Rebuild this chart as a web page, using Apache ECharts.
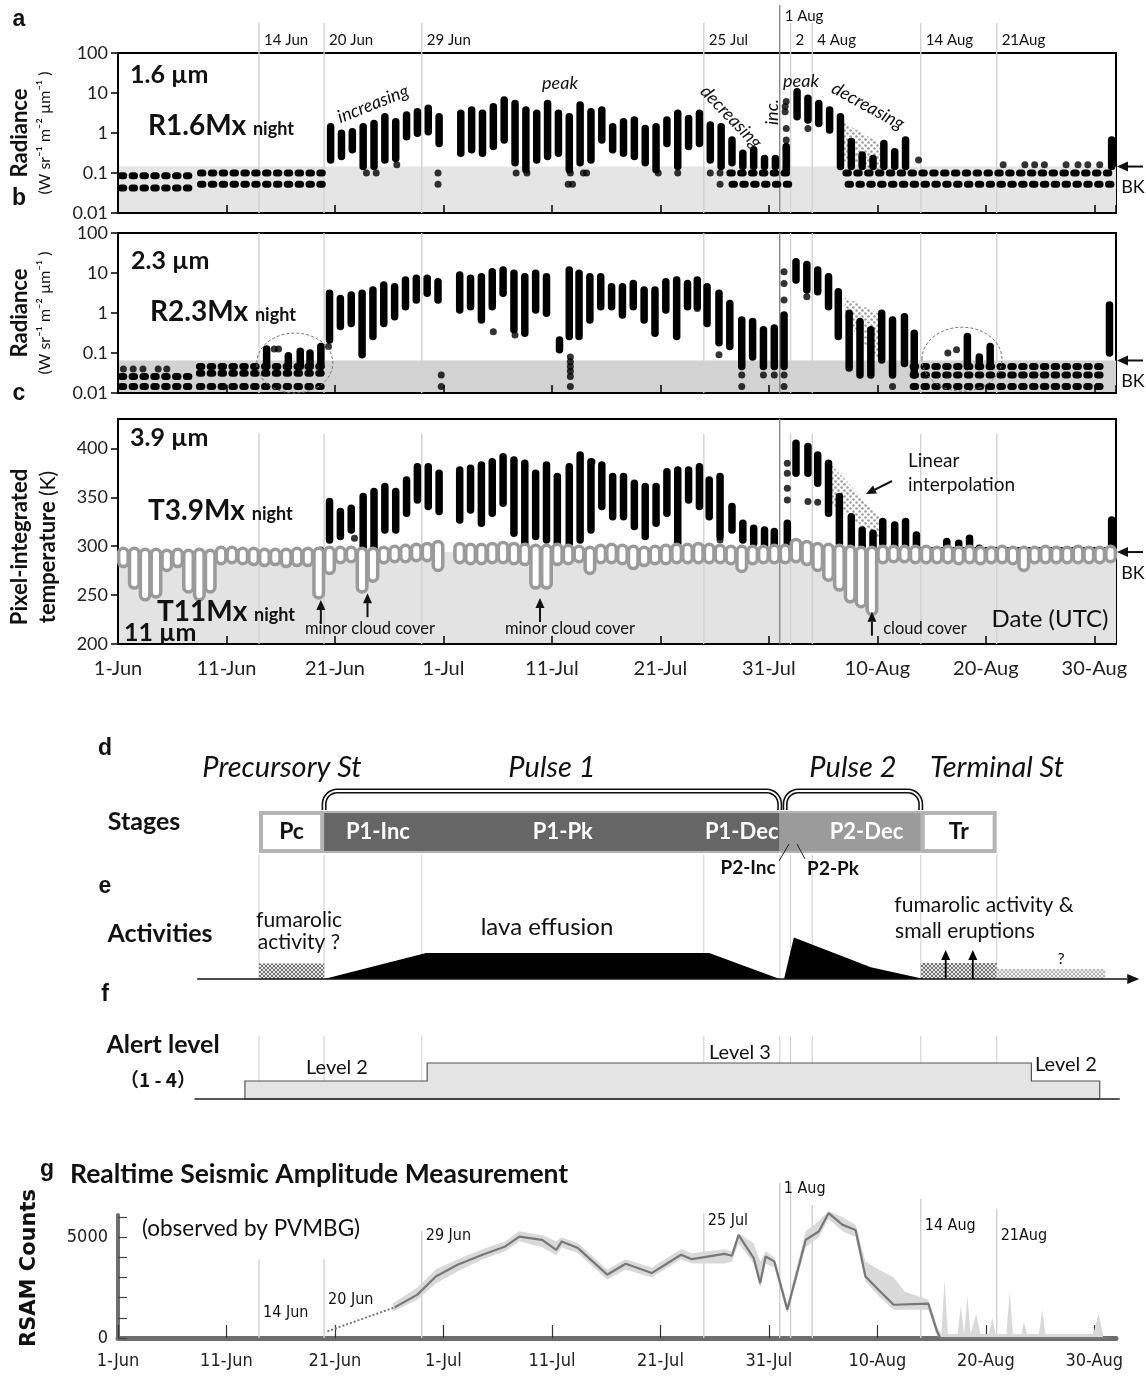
<!DOCTYPE html>
<html><head><meta charset="utf-8"><title>Eruption stages</title>
<script src="https://cdn.jsdelivr.net/npm/echarts@6/dist/echarts.min.js"></script>
<style>html,body{margin:0;padding:0;background:#fff;}#chart{width:1146px;height:1376px;}</style>
</head><body><div id="chart"></div>
<script>
// ================= DATA =================
// x: days since 1 June (0 = 1-Jun)
const xTickLabels = ['1-Jun','11-Jun','21-Jun','1-Jul','11-Jul','21-Jul','31-Jul','10-Aug','20-Aug','30-Aug'];
const logTickLabels = ['0.01','0.1','1','10','100'];
const tempTickLabels = ['200','250','300','350','400'];
const rsamTickValues = [0, 5000];
const rsamTickLabels = ['0', '5000'];
const eventDays = [13, 19, 28, 54, 61, 62, 64, 74, 81];
const eventLabels = ['14 Jun','20 Jun','29 Jun','25 Jul','1 Aug','2','4 Aug','14 Aug','21Aug'];

// ---- panel a : R1.6Mx night  [day, low, high] per night
const aCols = [[19.6,0.21,1.44],[20.6,0.26,0.98],[21.6,0.38,1.08],[22.6,0.145,1.44],[23.6,0.145,1.74],[24.6,0.21,2.56],[25.6,0.23,1.92],[26.6,0.81,2.82],[27.6,0.98,3.41],[28.6,1.08,4.14],[29.6,0.55,2.56],
[31.6,0.31,3.1],[32.6,0.38,3.76],[33.6,0.31,3.1],[34.6,0.46,4.55],[35.6,0.67,6.7],[36.6,0.18,5.5],[37.6,0.12,3.76],[38.6,0.21,3.1],[39.6,0.26,5.5],[40.6,0.31,3.1],[41.6,0.12,2.56],[42.6,0.18,5.0],[43.6,0.21,3.41],[44.6,0.67,3.76],[45.6,0.38,1.44],[46.6,0.31,1.92],[47.6,0.26,2.11],[48.6,0.18,1.3],[49.6,0.12,1.44],[50.6,0.55,2.11],[51.6,0.145,3.1],[52.6,0.46,2.32],[53.6,0.55,3.1],[54.6,0.21,1.58],[55.6,0.145,1.44],
[56.6,0.18,0.67],[57.6,0.145,0.31],[58.6,0.145,0.38],[59.6,0.145,0.23],[60.6,0.145,0.23],[61.6,0.12,0.46],[62.6,2.56,10.8],[63.6,2.11,7.4],[64.6,1.74,5.5],[65.6,1.19,3.76],[66.6,0.145,2.56],[67.6,0.145,0.61],[68.6,0.145,0.28],[69.6,0.145,0.23],[70.6,0.145,0.55],[71.6,0.145,0.34],[72.6,0.145,0.67],[91.6,0.145,0.67]];
const aDots = [[22.9,0.1],[23.8,0.1],[25.7,0.16],[29.5,0.1],[29.5,0.052],[36.7,0.1],[37.7,0.1],[41.7,0.1],[41.5,0.052],[41.9,0.052],[42.9,0.1],[43.2,0.1],[49.8,0.1],[51.6,0.1],[54.6,0.1],[55.5,0.1],[55.5,0.052],[61.6,0.67],[61.6,1.3],[61.5,3.4],[61.5,4.6],[61.6,6.1],[63.6,1.3],[73.8,0.21],[81.6,0.16],[83.6,0.16],[84.5,0.16],[85.4,0.16],[87.4,0.16],[88.5,0.16],[89.4,0.16],[90.5,0.16]];
const aRows = [[0.3,7.2,0.085],[0.3,7.2,0.042],[7.6,19.6,0.1],[7.6,19.3,0.052],[56.4,61.9,0.1],[56.6,61.9,0.052],[67.1,91.9,0.1],[67.3,91.9,0.052]];
const aBK = 0.145;
const aInterpDay = [66.8, 70.5], aInterpTop = [1.9, 0.5], aInterpBot = [0.2, 0.09];

// ---- panel b : R2.3Mx night
const bCols = [[13.7,0.046,0.125],[15.7,0.046,0.085],[16.8,0.046,0.11],[17.7,0.046,0.1],[18.7,0.046,0.145],
[19.5,0.21,3.1],[20.5,0.46,2.32],[21.5,0.55,2.82],[22.5,0.09,3.1],[23.5,0.26,3.76],[24.5,0.55,5.0],[25.5,0.81,4.55],[26.5,1.44,6.7],[27.5,2.11,7.4],[28.5,3.1,7.4],[29.5,2.11,6.07],
[31.5,1.19,8.9],[32.5,1.44,7.4],[33.5,0.67,8.1],[34.5,1.44,10.8],[35.5,3.1,11.9],[36.5,0.38,9.8],[37.5,0.31,8.1],[38.5,1.19,9.8],[39.5,0.98,8.1],[40.7,0.12,0.21],[41.6,0.26,11.9],[42.5,0.26,9.8],[43.5,0.67,8.1],[44.5,1.44,8.1],[45.5,1.44,4.55],[46.5,0.89,4.55],[47.5,1.44,5.5],[48.5,0.67,3.76],[49.5,0.31,3.76],[50.5,1.19,6.07],[51.5,0.26,6.7],[52.5,1.44,5.5],[53.4,1.44,6.7],[54.3,0.55,4.55],[55.4,0.18,3.1],[56.4,0.145,1.74],[57.5,0.046,0.67],[58.5,0.08,0.61],[59.5,0.046,0.38],[60.5,0.046,0.42],[61.4,0.046,0.89],[62.5,6.7,19.2],[63.5,3.76,16.2],[64.5,3.41,11.9],[65.5,1.44,8.1],[66.4,0.26,3.41],[67.4,0.042,0.98],[68.4,0.028,0.61],[69.4,0.028,0.38],[70.4,0.067,0.98],[71.4,0.028,0.67],[72.5,0.055,0.81],[73.4,0.028,0.31],
[78.3,0.046,0.26],[79.4,0.046,0.08],[80.4,0.046,0.145],[91.4,0.1,1.58]];
const bDots = [[0.5,0.04],[1.4,0.04],[2.3,0.04],[3.7,0.04],[4.5,0.04],[14.4,0.125],[14.8,0.125],[19.4,0.145],[29.8,0.028],[29.8,0.0145],[34.6,0.34],[36.6,0.28],[41.7,0.08],[41.7,0.06],[41.7,0.046],[41.7,0.035],[41.7,0.026],[41.7,0.0145],[53.4,1.3],[55.4,0.09],[57.5,0.028],[57.5,0.0145],[59.5,0.028],[60.5,0.028],[61.4,10.8],[61.4,5.5],[61.4,2.11],[61.4,0.028],[61.4,0.0145],[63.5,2.56],[71.4,0.0145],[73.4,0.0145],[76.5,0.1],[77.3,0.12]];
const bRows = [[0.3,7.1,0.026],[0.3,7.1,0.0145],[7.5,19.3,0.046],[7.5,19.3,0.031],[7.5,19.3,0.0145],[73.3,90.9,0.046],[73.3,90.9,0.028],[73.3,90.9,0.0145]];
const bBK = 0.065;
const bInterpDay = [67.0, 70.3], bInterpTop = [2.56, 0.89], bInterpBot = [0.67, 0.055];
const bCircleDay = [16.3, 77.8], bCircleVal = [0.056, 0.07];

// ---- panel c : T3.9Mx night (black) and T11Mx night (grey)
const cCols = [[19.5,306.4,345.6],[20.5,309.8,335.4],[21.5,316.6,338.8],[22.6,296.2,350.7],[23.6,296.2,355.8],[24.6,316.6,360.9],[25.6,316.6,355.8],[26.6,333.6,367.7],[27.6,347.3,381.3],[28.6,340.5,381.3],[29.6,335.4,374.5],
[31.5,326.8,377.9],[32.5,337.1,379.6],[33.5,323.4,383.0],[34.5,333.6,386.4],[35.5,343.9,391.5],[36.5,313.2,388.1],[37.5,299.6,384.7],[38.5,309.8,374.5],[39.5,306.4,383.0],[40.5,299.6,371.1],[41.6,303.0,381.3],[42.6,306.4,393.2],[43.6,316.6,386.4],[44.6,340.5,383.0],[45.6,330.2,371.1],[46.6,330.2,371.1],[47.6,320.0,364.3],[48.6,309.8,360.9],[49.6,323.4,360.9],[50.6,333.6,376.2],[51.6,303.0,377.9],[52.6,347.3,377.9],[53.6,340.5,381.3],[54.5,330.2,367.7],[55.5,309.8,371.1],[56.6,316.6,340.5],[57.6,306.4,323.4],[58.6,303.0,318.3],[59.6,299.6,316.6],[60.5,299.6,314.9],[61.7,296.2,323.4],[62.5,374.5,405.2],[63.6,374.5,401.8],[64.5,364.3,393.2],[65.5,333.6,384.7],[66.5,303.0,350.7],[67.6,296.2,330.2],[68.6,292.8,316.6],[69.6,292.8,313.2],[70.5,303.0,325.1],[71.6,299.6,321.7],[72.6,299.6,325.1],[73.6,299.6,311.5],
[76.4,294.5,304.7],[77.5,294.5,303.0],[78.5,294.5,308.1],[79.4,294.5,298.0],[91.6,296.2,326.8]];
const cDots = [[61.7,384.7],[61.7,374.5],[61.7,359.2],[61.7,347.3],[63.6,345.6],[55.5,306.4],[18.7,296],[43.7,386.4],[21.8,308],[64.5,345]];
const cQuietRows = [[0.3,18.8,289],[74.0,91.3,296.5]];
const t11 = [[0.5,284,293],[1.5,262,293],[2.5,250,292],[3.5,253,292],[4.5,280,291],[5.5,284,292],[6.5,258,291],[7.5,250,292],[8.5,258,291],[9.5,287,294],[10.5,288,294],[11.5,287,293],[12.5,286,293],[13.5,285,292],[14.5,286,292],[15.5,284,292],[16.5,285,293],[17.5,285,293],[18.5,252,293],[19.5,277,294],[20.5,288,294],[21.5,289,294],[22.5,258,293],[23.5,269,293],[24.5,288,294],[25.5,289,295],[26.5,289,296],[27.5,290,297],[28.5,290,298],[29.5,280,300],
[31.5,288,298],[32.5,287,297],[33.5,287,297],[34.5,288,298],[35.5,288,299],[36.5,287,298],[37.5,286,297],[38.5,262,296],[39.5,262,296],[40.5,286,297],[41.5,287,296],[42.5,289,295],[43.5,277,294],[44.5,288,296],[45.5,288,297],[46.5,287,296],[47.5,282,295],[48.5,285,294],[49.5,287,295],[50.5,287,296],[51.5,288,297],[52.5,288,297],[53.5,288,298],[54.5,288,297],[55.5,288,296],[56.5,287,295],[57.5,279,295],[58.5,287,295],[59.5,288,295],[60.5,288,296],[61.5,288,296],[62.5,289,302],[63.5,286,300],[64.5,280,298],[65.5,270,297],[66.5,260,296],[67.5,248,295],[68.5,243,294],[69.5,235,294],[70.5,288,295],[71.5,289,295],[72.5,289,295],[73.5,288,295],[74.5,288,295],[75.5,288,294],[76.5,288,295],[77.5,287,294],[78.5,288,295],[79.5,287,294],[80.5,288,294],[81.5,288,295],[82.5,287,294],[83.5,280,294],[84.5,288,294],[85.5,288,295],[86.5,288,294],[87.5,288,294],[88.5,288,295],[89.5,288,294],[90.5,288,294],[91.5,289,295]];
const cBK = 294;
const cInterpDay = [65.6, 70.5], cInterpTop = [385, 327], cInterpBot = [345, 305];
const cloudArrowDays = [18.7, 23.0, 38.9, 69.5];
const cloudArrowTips = [245, 252, 247, 233];

// ---- panel d : stages
const stageNames = ['Pc', '', '', 'Tr'];
const stageStart = [13, 19, 61, 74];
const stageEnd = [19, 61, 74, 81];
const subNames = ['P1-Inc','P1-Pk','P1-Dec','P2-Inc','P2-Pk','P2-Dec'];
const subStart = [19, 28, 54, 61, 62, 64];
const subEnd = [28, 54, 61, 62, 64, 74];
const pulseNames = ['Pulse 1', 'Pulse 2'];
const pulseStart = [19, 61.5];
const pulseEnd = [61, 74];

// ---- panel e : activities (relative level)
const actP1 = [[19,0],[28.4,1],[54.5,1],[61,0]];
const actP2 = [[61.4,0],[62.3,1.6],[69.4,0.45],[74.3,0]];
const hatchStart = [13, 74, 81];
const hatchEnd = [19, 81, 91];
const hatchLevel = [0.6, 0.62, 0.38];
const eruptionDays = [76.3, 78.8];

// ---- panel f : alert level
const alertStart = [11.7, 28.5, 84.2];
const alertEnd = [28.5, 84.2, 90.5];
const alertLevel = [2, 3, 2];

// ---- panel g : RSAM
const rsamLine = [[25.5,1520],[27.6,2150],[29.3,3050],[31.3,3630],[33.6,4130],[35.7,4540],[37.0,5030],[39.1,4870],[40.4,4370],[40.9,4790],[42.4,4460],[45.1,3140],[46.8,3680],[49.2,3220],[51.9,4130],[52.9,3910],[55.9,4170],[56.6,4080],[57.2,5110],[58.6,3960],[59.2,2720],[59.7,4040],[60.5,3800],[61.7,1400],[63.4,4870],[64.6,5280],[65.5,6190],[66.8,5610],[68.0,5360],[68.9,3050],[70.1,2390],[71.5,1650],[74.7,1700],[75.5,330],[75.8,0],[91.5,0]];
const rsamDotted = [[19.3,330],[25.5,1520]];
const rsamBand = [[25.3,1300,1700],[27.6,1900,2500],[29.3,2700,3400],[31.3,3300,3900],[33.6,3900,4400],[35.7,4300,4800],[37.0,4800,5300],[39.1,4500,5100],[40.4,4100,4800],[40.9,4500,5000],[42.4,4200,4700],[45.1,2900,3400],[46.8,3400,3900],[49.2,3000,3500],[51.9,3900,4400],[52.9,3700,4200],[55.9,3700,4400],[56.6,3800,4300],[57.2,4700,5200],[58.6,3700,4700],[59.2,2500,3800],[59.7,3700,4300],[60.5,3500,4000],[61.7,1200,1700],[63.4,4500,5300],[64.6,5000,5800],[65.5,5900,6300],[66.8,5300,6000],[68.0,5000,5600],[68.9,2800,3800],[70.1,2100,3400],[71.5,1400,3000],[72.5,1400,2300],[74.7,1400,1900],[75.5,100,600],[75.9,0,200],[76.2,0,2900],[76.5,0,200],[77.4,0,200],[77.7,0,1600],[78.0,0,200],[78.3,0,2100],[78.6,0,200],[79.1,0,1200],[79.5,0,200],[80.3,0,200],[80.6,0,1000],[80.9,0,200],[81.9,0,200],[82.2,0,2300],[82.5,0,200],[83.3,0,200],[83.5,0,800],[83.8,0,200],[84.9,0,200],[85.2,0,1400],[85.5,0,200],[89.9,0,200],[90.4,0,1200],[90.8,0,200]];
const gLineTops = [3900, 3900, 5300, 6200, 7700, 7700, 6600, 6900, 6400];
const gLabelY = [1313, 1300, 1236, 1221, 1189, null, null, 1226, 1236];

// ================= STYLE / HELPERS =================
const F = 'Lato, "Open Sans", sans-serif';
const FC = '"Liberation Sans Narrow", "DejaVu Sans Condensed", Lato, sans-serif';
function pattern(kind){
  const c = document.createElement('canvas');
  if (kind === 'dots') {
    c.width = c.height = 6; const g = c.getContext('2d');
    g.fillStyle = '#9c9c9c'; g.beginPath(); g.arc(1.5,1.5,1.3,0,7); g.fill(); g.beginPath(); g.arc(4.5,4.5,1.3,0,7); g.fill();
  } else {
    c.width = c.height = 4; const g = c.getContext('2d');
    g.fillStyle = kind === 'dense' ? '#e6e6e6' : '#f2f2f2'; g.fillRect(0,0,4,4);
    g.strokeStyle = kind === 'dense' ? '#555' : '#a0a0a0'; g.lineWidth = 0.8;
    g.beginPath(); g.moveTo(0,0); g.lineTo(4,4); g.moveTo(4,0); g.lineTo(0,4); g.stroke();
  }
  return {image: c, repeat: 'repeat'};
}
const dotFill = pattern('dots');

const series = [];
function shade(gi, x0, x1, y0, y1, color){
  series.push({type:'custom', xAxisIndex:gi, yAxisIndex:gi, z:0, silent:true, clip:false, data:[[x0,y0,x1,y1]],
    renderItem:(p,api)=>{ const a=api.coord([api.value(0),api.value(3)]), b=api.coord([api.value(2),api.value(1)]);
      return {type:'rect', shape:{x:a[0],y:a[1],width:b[0]-a[0],height:b[1]-a[1]}, style:{fill:color}}; }});
}
function evLines(gi, yBot, topFn, colorFn, extFn){
  series.push({type:'custom', xAxisIndex:gi, yAxisIndex:gi, z:1, silent:true, clip:false,
    data: eventDays.map((d,i)=>[d, yBot, i]),
    renderItem:(p,api)=>{ const d=api.value(0), i=api.value(2); const b=api.coord([d,yBot]); const t=api.coord([d,topFn(i)]);
      const ext = extFn ? extFn(i) : 0;
      return {type:'line', shape:{x1:b[0],y1:b[1],x2:t[0],y2:t[1]-ext}, style:{stroke:colorFn(i), lineWidth:1.4}}; }});
}
function cols(gi, data, w, style, z){
  series.push({type:'custom', xAxisIndex:gi, yAxisIndex:gi, z, silent:true, clip:false, data,
    renderItem:(p,api)=>{ const d=api.value(0), lo=api.value(1), hi=api.value(2);
      const t=api.coord([d,hi]), b=api.coord([d,lo]); const r=w/2;
      return {type:'rect', shape:{x:t[0]-r, y:t[1]-r, width:w, height:b[1]-t[1]+w, r:r}, style}; }});
}
function rows(gi, data, lw, dash, color, z){
  series.push({type:'custom', xAxisIndex:gi, yAxisIndex:gi, z, silent:true, clip:false, data, encode:{x:0, y:2},
    renderItem:(p,api)=>{ const s=api.coord([api.value(0),api.value(2)]), e=api.coord([api.value(1),api.value(2)]);
      return {type:'line', shape:{x1:s[0],y1:s[1],x2:e[0],y2:e[1]}, style:{stroke:color, lineWidth:lw, lineDash:dash, lineCap:'round'}}; }});
}
function dots(gi, data, z){
  series.push({type:'scatter', xAxisIndex:gi, yAxisIndex:gi, z, silent:true, data, symbolSize:7, itemStyle:{color:'#000'}});
}
function poly(gi, pts, style, z){
  series.push({type:'custom', xAxisIndex:gi, yAxisIndex:gi, z, silent:true, clip:false, data:[pts[0]],
    renderItem:(p,api)=>({type:'polygon', shape:{points:pts.map(q=>api.coord(q))}, style})});
}
function interpPts(days, top, bot){
  return days.map((d,i)=>[d, top[i]]).concat(days.map((d,i)=>[d, bot[i]]).reverse());
}

const evColor = i => eventDays[i] === 61 ? '#8a8a8a' : '#d2d2d2';

// ---- panel a
shade(0, 0, 92, 0.01, aBK, '#e5e5e5');
evLines(0, 0.01, ()=>100, evColor, i => eventDays[i] === 61 ? 48 : 30);
poly(0, interpPts(aInterpDay, aInterpTop, aInterpBot), {fill: dotFill}, 2);
rows(0, aRows, 7, [2.5, 8.35], '#000', 3);
cols(0, aCols, 7.5, {fill:'#000'}, 4);
dots(0, aDots, 4);
// ---- panel b
shade(1, 0, 92, 0.01, bBK, '#d2d2d2');
evLines(1, 0.01, ()=>100, evColor);
poly(1, interpPts(bInterpDay, bInterpTop, bInterpBot), {fill: dotFill}, 2);
rows(1, bRows, 7, [2.5, 8.35], '#000', 3);
cols(1, bCols, 7.5, {fill:'#000'}, 4);
dots(1, bDots, 4);
// ---- panel c
shade(2, 0, 92, 200, cBK, '#e3e3e3');
evLines(2, 200, i => eventDays[i] === 61 ? 430 : 415, evColor);
poly(2, interpPts(cInterpDay, cInterpTop, cInterpBot), {fill: dotFill}, 2);
rows(2, cQuietRows, 5, null, '#000', 3);
cols(2, cCols, 7.5, {fill:'#000'}, 4);
dots(2, cDots, 4);
cols(2, t11, 9.5, {fill:'#fff', stroke:'#9a9a9a', lineWidth:3.5}, 5);

// ---- panel d : stage bar
series.push({type:'custom', xAxisIndex:3, yAxisIndex:3, z:3, silent:true, clip:false,
  data: stageStart.map((s,i)=>[s, 0, stageEnd[i], i]),
  renderItem:(p,api)=>{
    const i = api.value(3);
    const a = api.coord([api.value(0), 1]), b = api.coord([api.value(2), 0]);
    const w = b[0]-a[0], h = b[1]-a[1];
    const kids = [];
    if (stageNames[i]) {
      kids.push({type:'rect', shape:{x:a[0],y:a[1],width:w,height:h}, style:{fill:'#b4b4b4'}});
      kids.push({type:'rect', shape:{x:a[0]+4,y:a[1]+4,width:w-8,height:h-8}, style:{fill:'#fff'}});
      kids.push({type:'text', style:{text:stageNames[i], x:(a[0]+b[0])/2, y:(a[1]+b[1])/2, font:'bold 23px '+F, fill:'#111', align:'center', verticalAlign:'middle', textAlign:'center', textVerticalAlign:'middle'}});
    } else {
      kids.push({type:'rect', shape:{x:a[0],y:a[1],width:w,height:h}, style:{fill:'#b4b4b4'}});
      kids.push({type:'rect', shape:{x:a[0],y:a[1]+2,width:w,height:h-4}, style:{fill: i===1 ? '#666666' : '#9b9b9b'}});
    }
    return {type:'group', children:kids};
  }});

// ---- panel e : activities
series.push({type:'custom', xAxisIndex:4, yAxisIndex:4, z:3, silent:true, clip:false,
  data: hatchStart.map((s,i)=>[s, 0, hatchEnd[i], hatchLevel[i], i]),
  renderItem:(p,api)=>{ const i=api.value(4); const a=api.coord([api.value(0), api.value(3)]), b=api.coord([api.value(2), 0]);
    return {type:'rect', shape:{x:a[0],y:a[1],width:b[0]-a[0],height:b[1]-a[1]}, style:{fill: pattern(i===2?'light':'dense')}}; }});
poly(4, actP1, {fill:'#000'}, 4);
poly(4, actP2, {fill:'#000'}, 4);
series.push({type:'custom', xAxisIndex:4, yAxisIndex:4, z:5, silent:true, clip:false, data:[[7.3,0,92.3]],
  renderItem:(p,api)=>{ const a=api.coord([api.value(0),0]), b=api.coord([api.value(2),0]);
    return {type:'group', children:[
      {type:'line', shape:{x1:a[0],y1:a[1],x2:b[0]+8,y2:b[1]}, style:{stroke:'#111', lineWidth:1.6}},
      {type:'polygon', shape:{points:[[b[0]+20,b[1]],[b[0]+8,b[1]-5],[b[0]+8,b[1]+5]]}, style:{fill:'#111'}}]}; }});
series.push({type:'custom', xAxisIndex:4, yAxisIndex:4, z:6, silent:true, clip:false, data: eruptionDays.map(d=>[d,0]),
  renderItem:(p,api)=>{ const a=api.coord([api.value(0),0]); const t=a[1]-29;
    return {type:'group', children:[
      {type:'line', shape:{x1:a[0],y1:a[1],x2:a[0],y2:t+8}, style:{stroke:'#000', lineWidth:1.8}},
      {type:'polygon', shape:{points:[[a[0],t],[a[0]-4.5,t+10],[a[0]+4.5,t+10]]}, style:{fill:'#000'}}]}; }});

// ---- panel f : alert level steps
(function(){
  const pts = [[alertStart[0], 1]];
  alertStart.forEach((s,i)=>{ pts.push([s, alertLevel[i]]); pts.push([alertEnd[i], alertLevel[i]]); });
  pts.push([alertEnd[alertEnd.length-1], 1]);
  poly(5, pts, {fill:'#e4e4e4', stroke:'#555', lineWidth:1.2}, 3);
  rows(5, [[7.1, 92.3, 1]], 1.5, null, '#222', 4);
})();

// ---- panel g : RSAM
evLines(6, 0, i => gLineTops[i], () => '#d0d0d0');
poly(6, rsamBand.map(r=>[r[0], r[2]]).concat(rsamBand.map(r=>[r[0], r[1]]).reverse()), {fill:'#d9d9d9'}, 2);
series.push({type:'line', xAxisIndex:6, yAxisIndex:6, z:4, silent:true, clip:false, data: rsamDotted, symbol:'none', lineStyle:{color:'#7a7a7a', width:2, type:'dotted'}});
series.push({type:'line', xAxisIndex:6, yAxisIndex:6, z:4, silent:true, clip:false, data: rsamLine, symbol:'none', lineStyle:{color:'#777', width:2.2}});

// ================= AXES =================
const L = 118, W = 998;
const grid = [
  {left:L, top:53, width:W, height:160, show:true, borderColor:'#000', borderWidth:2},
  {left:L, top:233, width:W, height:160, show:true, borderColor:'#000', borderWidth:2},
  {left:L, top:419, width:W, height:225, show:true, borderColor:'#000', borderWidth:2},
  {left:L, top:811, width:W, height:42},
  {left:L, top:927, width:W, height:52},
  {left:L, top:1045, width:W, height:54},
  {left:L, top:1215, width:W, height:123}
];
const xLabelFmt = v => (v % 10 === 0 && v/10 < xTickLabels.length) ? xTickLabels[v/10] : '';
function xAx(gi, extra){
  return Object.assign({type:'value', gridIndex:gi, min:0, max:92, interval:10, splitLine:{show:false},
    axisLine:{show:true, onZero:false, lineStyle:{color:'#000', width:2}},
    axisTick:{show:true, inside:true, length:8, lineStyle:{color:'#000', width:1.5}},
    axisLabel:{show:false}}, extra || {});
}
const xAxis = [
  xAx(0), xAx(1),
  xAx(2, {axisLabel:{show:true, formatter:xLabelFmt, fontSize:20, color:'#222', fontFamily:F, margin:15, showMaxLabel:false}}),
  xAx(3, {show:false}), xAx(4, {show:false}), xAx(5, {show:false}),
  xAx(6, {axisLine:{show:true, onZero:false, lineStyle:{color:'#6e6e6e', width:5}},
          axisTick:{show:true, inside:true, length:13, lineStyle:{color:'#333', width:1.2}},
          axisLabel:{show:true, formatter:xLabelFmt, fontSize:18, color:'#222', fontFamily:FC, margin:14, showMaxLabel:false}})
];
const logFmt = v => { const k = Math.round(Math.log10(v)) + 2; return logTickLabels[k] || ''; };
function logAx(gi){
  return {type:'log', logBase:10, gridIndex:gi, min:0.01, max:100, splitLine:{show:false},
    axisLine:{show:true, lineStyle:{color:'#000', width:2}},
    axisTick:{show:true, length:7, lineStyle:{color:'#000', width:1.5}},
    axisLabel:{formatter:logFmt, fontSize:18, color:'#222', fontFamily:F, margin:10}};
}
const yAxis = [
  logAx(0), logAx(1),
  {type:'value', gridIndex:2, min:200, max:430, interval:50, splitLine:{show:false},
   axisLine:{show:true, lineStyle:{color:'#000', width:2}}, axisTick:{show:true, length:7, lineStyle:{color:'#000', width:1.5}},
   axisLabel:{fontSize:18, color:'#222', fontFamily:F, margin:10, showMaxLabel:false,
     formatter: v => tempTickLabels.includes(String(v)) ? String(v) : ''}},
  {type:'value', gridIndex:3, min:0, max:1, show:false},
  {type:'value', gridIndex:4, min:0, max:2, show:false},
  {type:'value', gridIndex:5, min:1, max:4, show:false},
  {type:'value', gridIndex:6, min:0, max:6100, interval:1000, splitLine:{show:false},
   axisLine:{show:true, lineStyle:{color:'#6e6e6e', width:4}},
   axisTick:{show:true, inside:true, length:9, lineStyle:{color:'#444', width:1.2}},
   axisLabel:{fontSize:18, color:'#222', fontFamily:FC, margin:10, showMaxLabel:false,
     formatter: v => { const k = rsamTickValues.indexOf(v); return k >= 0 ? rsamTickLabels[k] : ''; }}}
];

const chart = echarts.init(document.getElementById('chart'), null, {width:1146, height:1376});
chart.setOption({backgroundColor:'#fff', animation:false, grid, xAxis, yAxis, series});

// ================= ANNOTATIONS =================
const X = d => chart.convertToPixel({xAxisIndex:0}, d);
const Y = (gi, v) => chart.convertToPixel({yAxisIndex:gi}, v);
const G = [];
function txt(text, x, y, font, o){
  o = o || {};
  G.push({type:'text', x, y, rotation:o.rot||0, z:100, silent:true,
    style:{text, font, fill:o.fill||'#111', textAlign:o.align||'center', textVerticalAlign:o.va||'middle',
           align:o.align||'center', verticalAlign:o.va||'middle', rich:o.rich}});
}
function line(x1,y1,x2,y2,stroke,w,z){ G.push({type:'line', z:z||1, silent:true, shape:{x1,y1,x2,y2}, style:{stroke, lineWidth:w}}); }
function arrow(x1,y1,x2,y2,h,w,color){
  h = h||10; w = w||2; color = color||'#111';
  const ang = Math.atan2(y2-y1, x2-x1), bx = x2-h*Math.cos(ang), by = y2-h*Math.sin(ang);
  line(x1,y1,bx,by,color,w,101);
  const px = -Math.sin(ang)*h*0.45, py = Math.cos(ang)*h*0.45;
  G.push({type:'polygon', z:101, silent:true, shape:{points:[[x2,y2],[bx+px,by+py],[bx-px,by-py]]}, style:{fill:color}});
}
function bracketPoints(x0, x1, yb, yt, r){
  const pts = [[x0, yb]];
  for (let k = 0; k <= 8; k++) { const a = Math.PI - k*Math.PI/16; pts.push([x0 + r + r*Math.cos(a), yt + r - r*Math.sin(a)]); }
  for (let k = 0; k <= 8; k++) { const a = Math.PI/2 - k*Math.PI/16; pts.push([x1 - r + r*Math.cos(a), yt + r - r*Math.sin(a)]); }
  pts.push([x1, yb]);
  return pts;
}
const LET = 'bold 23px "Liberation Sans", Arial, sans-serif';
txt('a', 19, 20, LET); txt('b', 19, 199, LET); txt('c', 19, 394, LET);
txt('d', 105, 749, LET); txt('e', 105, 887, LET); txt('f', 105, 995, LET); txt('g', 47, 1170, LET);

// top date labels
eventDays.forEach((d,i)=>{ txt(eventLabels[i], X(d)+5, eventDays[i]===61 ? 16 : 40, '15px '+F, {align:'left'}); });

// panel a
txt('1.6 µm', 130, 75, 'bold 25px '+F, {align:'left'});
const mxRich = {a:{font:'bold 28px '+F, fill:'#111', verticalAlign:'bottom'}, b:{font:'bold 18px '+F, fill:'#111', verticalAlign:'bottom', padding:[0,0,2,0]}};
txt('{a|R1.6Mx} {b|night}', 148, 126, 'bold 28px '+F, {align:'left', rich:mxRich});
const IT = 'italic 18px '+F;
txt('increasing', 373, 104, IT, {rot:0.38});
txt('peak', 560, 83, IT);
txt('decreasing', 731, 117, IT, {rot:-0.8});
txt('inc.', 772, 112, IT, {rot:Math.PI/2});
txt('peak', 801, 81, IT);
txt('decreasing', 868, 106, IT, {rot:-0.5});
txt('Radiance', 20, 133, 'bold 22px '+F, {rot:Math.PI/2});
txt('(W sr\u207B\u00B9 m\u207B\u00B2 \u00B5m\u207B\u00B9 )', 45, 133, '16px '+F, {rot:Math.PI/2});
// panel b
txt('2.3 µm', 131, 261, 'bold 25px '+F, {align:'left'});
txt('{a|R2.3Mx} {b|night}', 150, 312, 'bold 28px '+F, {align:'left', rich:mxRich});
txt('Radiance', 20, 313, 'bold 22px '+F, {rot:Math.PI/2});
txt('(W sr\u207B\u00B9 m\u207B\u00B2 \u00B5m\u207B\u00B9 )', 45, 313, '16px '+F, {rot:Math.PI/2});
bCircleDay.forEach((d,i)=>{
  G.push({type:'ellipse', z:50, silent:true, shape:{cx:X(d), cy:Y(1,bCircleVal[i]), rx: i===0?38:40, ry: i===0?30:32},
    style:{fill:null, stroke:'#777', lineWidth:1, lineDash:[3,2]}});
});
// panel c
txt('3.9 µm', 130, 438, 'bold 25px '+F, {align:'left'});
txt('{a|T3.9Mx} {b|night}', 148, 511, 'bold 28px '+F, {align:'left', rich:mxRich});
txt('{a|T11Mx} {b|night}', 157, 612, 'bold 28px '+F, {align:'left', rich:mxRich});
txt('11 µm', 124, 633, 'bold 25px '+F, {align:'left'});
txt('Pixel-integrated', 20, 547, 'bold 22px '+F, {rot:Math.PI/2});
txt('{a|temperature} {b|(K)}', 48, 547, 'bold 22px '+F, {rot:Math.PI/2, rich:{a:{font:'bold 22px '+F, fill:'#111'}, b:{font:'21px '+F, fill:'#111'}}});
txt('minor cloud cover', 370, 629, '16.5px '+F);
txt('minor cloud cover', 570, 629, '16.5px '+F);
txt('cloud cover', 925, 629, '16.5px '+F);
txt('Date (UTC)', 1050, 619, '24px '+F);
txt('Linear', 908, 461, '19px '+F, {align:'left'});
txt('interpolation', 908, 485, '19px '+F, {align:'left'});
arrow(892, 481, 866, 494, 10, 2);
cloudArrowDays.forEach((d,i)=>{ const ty = Y(2, cloudArrowTips[i]); arrow(X(d), ty+24, X(d), ty, 10, 2); });
// BK arrows
[[0,aBK],[1,bBK],[2,cBK]].forEach(([gi,v])=>{ const y = Y(gi, v); arrow(1143, y, 1117, y, 11, 2); txt('BK', 1133, y+21, '18px '+F); });

// panel d
txt('Precursory St', 282, 768, 'italic 29px '+F);
pulseNames.forEach((n,i)=>{
  const x0 = X(pulseStart[i]), x1 = X(pulseEnd[i]);
  txt(n, (x0+x1)/2, 768, 'italic 29px '+F);
  const pts = bracketPoints(x0, x1, 810, 791, 13);
  G.push({type:'polyline', z:60, silent:true, shape:{points:pts}, style:{fill:null, stroke:'#111', lineWidth:5}});
  G.push({type:'polyline', z:61, silent:true, shape:{points:pts}, style:{fill:null, stroke:'#fff', lineWidth:1.8}});
});
txt('Terminal St', 997, 768, 'italic 29px '+F);
txt('Stages', 144, 822, 'bold 25px '+F);
subNames.forEach((n,i)=>{
  const xc = (X(subStart[i]) + X(subEnd[i]))/2;
  if (n === 'P2-Inc' || n === 'P2-Pk') return;
  txt(n, xc + (i===0 ? 5 : 0), 832, 'bold 22px '+F, {fill:'#fff'});
});
txt('P2-Inc', 748, 868, 'bold 19px '+F);
txt('P2-Pk', 833, 869, 'bold 19px '+F);
line(779, 861, 789, 844, '#222', 1, 70);
line(797, 844, 805, 859, '#222', 1, 70);
// event lines in d/e/f
eventDays.forEach(d=>{ const x = X(d); line(x, 855, x, 979, '#d4d4d4', 1.2, 1); line(x, 1036, x, 1099, '#d4d4d4', 1.2, 1); });
// panel e
txt('Activities', 160, 934, 'bold 25px '+F);
txt('fumarolic', 299, 920, '21px '+F);
txt('activity ?', 299, 942, '21px '+F);
txt('lava effusion', 547, 927, '24px '+F);
txt('fumarolic activity &', 984, 905, '21px '+F);
txt('small eruptions', 965, 931, '21px '+F);
txt('?', 1061, 959, '16px '+F);
// panel f
txt('Alert level', 163, 1045, 'bold 25px '+F);
txt('（1 - 4）', 158, 1080, 'bold 19px "Noto Sans CJK JP", '+F);
txt('Level 2', 337, 1068, '20px '+F);
txt('Level 3', 740, 1053, '20px '+F);
txt('Level 2', 1066, 1065, '20px '+F);
// panel g
txt('Realtime Seismic Amplitude Measurement', 70, 1174, 'bold 26.5px '+F, {align:'left'});
txt('RSAM Counts', 30, 1268, 'bold 21px "DejaVu Sans", sans-serif', {rot:Math.PI/2});
txt('(observed by PVMBG)', 251, 1229, '22.5px '+F);
eventDays.forEach((d,i)=>{ if (gLabelY[i] != null) txt(eventLabels[i], X(d)+4, gLabelY[i], '16px '+FC, {align:'left'}); });

chart.setOption({graphic:{elements:G}});
</script></body></html>
